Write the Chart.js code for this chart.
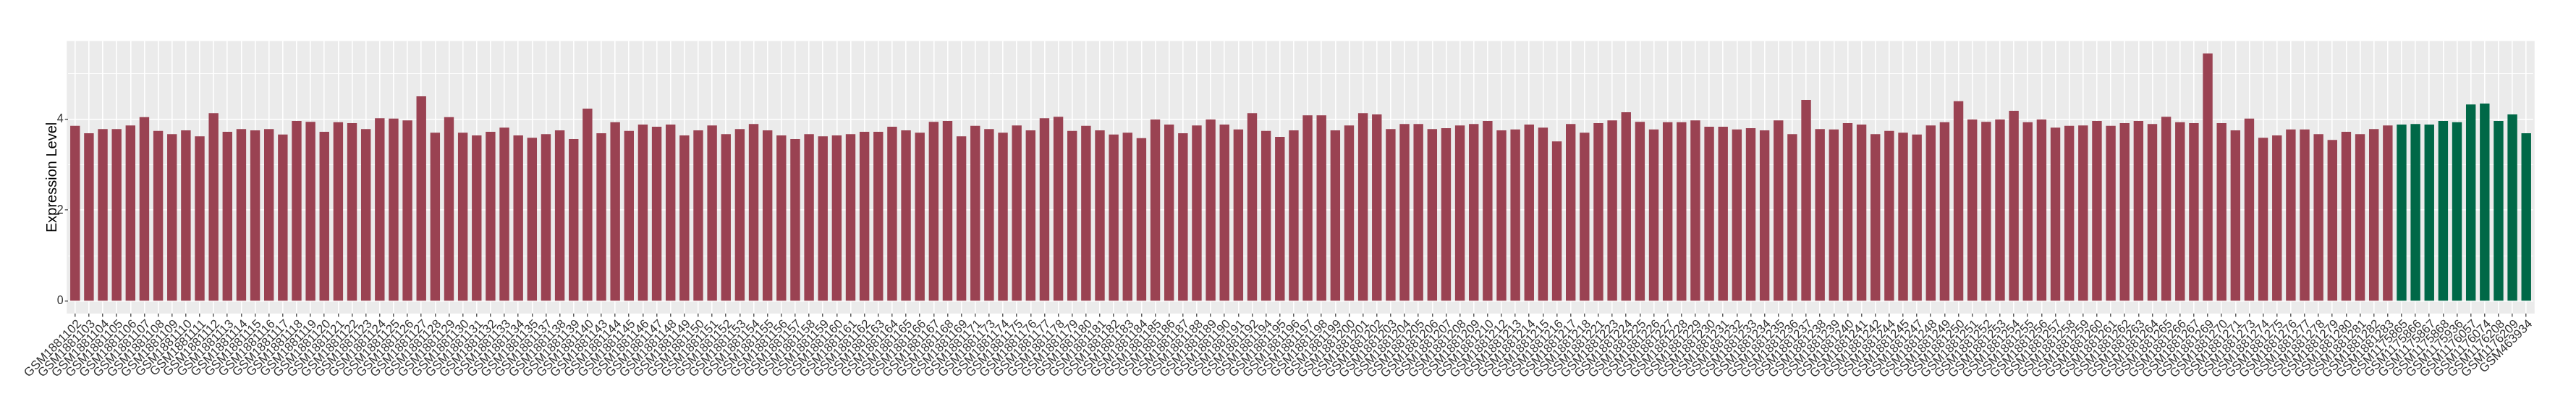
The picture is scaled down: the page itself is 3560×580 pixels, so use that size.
<!DOCTYPE html>
<html><head><meta charset="utf-8">
<script src="https://cdn.jsdelivr.net/npm/chart.js@4.4.1/dist/chart.umd.min.js"></script>
<style>html,body{margin:0;padding:0;background:#fff;}canvas{display:block;}</style>
</head><body>
<canvas id="c" width="3560" height="580"></canvas>
<script>
const groupASamples = [
"GSM1881102","GSM1881103","GSM1881104","GSM1881105","GSM1881106","GSM1881107","GSM1881108","GSM1881109","GSM1881110","GSM1881111",
"GSM1881112","GSM1881113","GSM1881114","GSM1881115","GSM1881116","GSM1881117","GSM1881118","GSM1881119","GSM1881120","GSM1881121",
"GSM1881122","GSM1881123","GSM1881124","GSM1881125","GSM1881126","GSM1881127","GSM1881128","GSM1881129","GSM1881130","GSM1881131",
"GSM1881132","GSM1881133","GSM1881134","GSM1881135","GSM1881137","GSM1881138","GSM1881139","GSM1881140","GSM1881143","GSM1881144",
"GSM1881145","GSM1881146","GSM1881147","GSM1881148","GSM1881149","GSM1881150","GSM1881151","GSM1881152","GSM1881153","GSM1881154",
"GSM1881155","GSM1881156","GSM1881157","GSM1881158","GSM1881159","GSM1881160","GSM1881161","GSM1881162","GSM1881163","GSM1881164",
"GSM1881165","GSM1881166","GSM1881167","GSM1881168","GSM1881169","GSM1881171","GSM1881173","GSM1881174","GSM1881175","GSM1881176",
"GSM1881177","GSM1881178","GSM1881179","GSM1881180","GSM1881181","GSM1881182","GSM1881183","GSM1881184","GSM1881185","GSM1881186",
"GSM1881187","GSM1881188","GSM1881189","GSM1881190","GSM1881191","GSM1881192","GSM1881194","GSM1881195","GSM1881196","GSM1881197",
"GSM1881198","GSM1881199","GSM1881200","GSM1881201","GSM1881202","GSM1881203","GSM1881204","GSM1881205","GSM1881206","GSM1881207",
"GSM1881208","GSM1881209","GSM1881210","GSM1881212","GSM1881213","GSM1881214","GSM1881215","GSM1881216","GSM1881217","GSM1881218",
"GSM1881221","GSM1881223","GSM1881224","GSM1881225","GSM1881226","GSM1881227","GSM1881228","GSM1881229","GSM1881230","GSM1881231",
"GSM1881232","GSM1881233","GSM1881234","GSM1881235","GSM1881236","GSM1881237","GSM1881238","GSM1881239","GSM1881240","GSM1881241",
"GSM1881242","GSM1881244","GSM1881245","GSM1881247","GSM1881248","GSM1881249","GSM1881250","GSM1881251","GSM1881252","GSM1881253",
"GSM1881254","GSM1881255","GSM1881256","GSM1881257","GSM1881258","GSM1881259","GSM1881260","GSM1881261","GSM1881262","GSM1881263",
"GSM1881264","GSM1881265","GSM1881266","GSM1881267","GSM1881269","GSM1881270","GSM1881271","GSM1881273","GSM1881274","GSM1881275",
"GSM1881276","GSM1881277","GSM1881278","GSM1881279","GSM1881280","GSM1881281","GSM1881282","GSM1881283"
];
const groupAValues = [
3.85,3.69,3.78,3.78,3.86,4.04,3.74,3.67,3.75,3.62,
4.13,3.72,3.78,3.75,3.78,3.66,3.96,3.94,3.72,3.93,
3.91,3.78,4.02,4.01,3.97,4.50,3.70,4.04,3.70,3.64,
3.72,3.81,3.64,3.59,3.67,3.75,3.56,4.23,3.69,3.93,
3.74,3.88,3.83,3.88,3.64,3.75,3.86,3.67,3.78,3.89,
3.75,3.64,3.56,3.67,3.62,3.64,3.67,3.72,3.72,3.83,
3.75,3.70,3.94,3.96,3.62,3.85,3.78,3.70,3.86,3.75,
4.02,4.05,3.74,3.85,3.75,3.66,3.70,3.58,3.99,3.88,
3.69,3.86,3.99,3.88,3.77,4.13,3.74,3.61,3.75,4.08,
4.08,3.75,3.86,4.13,4.10,3.78,3.89,3.89,3.78,3.80,
3.86,3.89,3.96,3.75,3.77,3.88,3.81,3.51,3.89,3.70,
3.91,3.97,4.15,3.94,3.77,3.93,3.93,3.97,3.83,3.83,
3.77,3.80,3.75,3.97,3.67,4.42,3.78,3.77,3.91,3.88,
3.67,3.74,3.70,3.66,3.86,3.93,4.39,3.99,3.94,3.99,
4.18,3.93,3.99,3.81,3.85,3.86,3.96,3.85,3.91,3.96,
3.89,4.05,3.93,3.91,5.44,3.91,3.75,4.01,3.59,3.64,
3.77,3.77,3.67,3.54,3.72,3.67,3.78,3.86
];
const groupBSamples = ["GSM1175865","GSM1175866","GSM1175867","GSM1175868","GSM1175936","GSM1176057","GSM1176074","GSM1176208","GSM1176209","GSM463934"];
const groupBValues = [3.88,3.89,3.88,3.96,3.93,4.32,4.34,3.96,4.10,3.69];
const yGridValues = [0,1,2,3,4,5];
const yTickLabels = ["0","","2","","4",""];
const yTitle = "Expression Level";

const categories = groupASamples.concat(groupBSamples);
const FONT = "'Liberation Sans', Arial, Helvetica, sans-serif";

const panelBg = {
  id: 'panelBg',
  beforeDraw(chart) {
    const {ctx, chartArea: a} = chart;
    const unit = (a.right - a.left) / categories.length;
    const ext = unit * 0.1;
    ctx.save();
    ctx.fillStyle = '#EBEBEB';
    ctx.fillRect(a.left - ext, a.top, (a.right - a.left) + 2 * ext, a.bottom - a.top);
    ctx.restore();
  }
};

new Chart(document.getElementById('c'), {
  type: 'bar',
  data: {
    labels: categories,
    datasets: [
      {
        data: groupASamples.map((s, i) => ({x: s, y: groupAValues[i]})),
        backgroundColor: '#9A4252',
        barPercentage: 0.7, categoryPercentage: 1, grouped: false, borderWidth: 0
      },
      {
        data: groupBSamples.map((s, i) => ({x: s, y: groupBValues[i]})),
        backgroundColor: '#006847',
        barPercentage: 0.7, categoryPercentage: 1, grouped: false, borderWidth: 0
      }
    ]
  },
  options: {
    responsive: false,
    devicePixelRatio: 1,
    animation: false,
    layout: {padding: {top: 56.7, right: 59.2, bottom: 0, left: 0}},
    plugins: {legend: {display: false}, tooltip: {enabled: false}},
    scales: {
      x: {
        afterFit: s => { s.height = 146.9; },
        border: {display: false},
        grid: {color: '#FFFFFF', lineWidth: 1.6, offset: false, tickColor: '#333333', tickLength: 4.5, tickWidth: 1.2, z: -1},
        ticks: {autoSkip: false, minRotation: 45, maxRotation: 45, font: {family: FONT, size: 17}, color: '#333333', padding: 0, labelOffset: 6}
      },
      y: {
        min: -0.272, max: 5.712,
        afterBuildTicks: s => { s.ticks = yGridValues.map(v => ({value: v})); },
        afterFit: s => { s.width = 94.2; },
        border: {display: false},
        grid: {
          color: '#FFFFFF',
          lineWidth: c => (yTickLabels[c.index] ? 1.6 : 0.8),
          tickColor: c => (yTickLabels[c.index] ? '#333333' : 'rgba(0,0,0,0)'),
          tickLength: 4.5, tickWidth: 1.2, z: -1
        },
        ticks: {callback: (v, i) => yTickLabels[i], font: {family: FONT, size: 16}, color: '#333333', padding: 2},
        title: {display: true, text: yTitle, font: {family: FONT, size: 20, lineHeight: 1.2}, color: '#000000', padding: {top: 60, bottom: 0}}
      }
    }
  },
  plugins: [panelBg]
});
</script>
</body></html>
